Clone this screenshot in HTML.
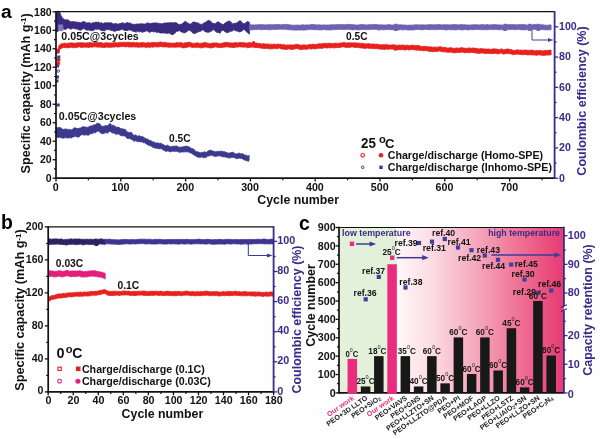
<!DOCTYPE html>
<html><head><meta charset="utf-8"><title>Cycling performance</title>
<style>
html,body{margin:0;padding:0;background:#fff;}
body{width:600px;height:439px;overflow:hidden;font-family:"Liberation Sans",sans-serif;}
svg{display:block;filter:blur(0.55px);}
</style></head>
<body>
<svg width="600" height="439" viewBox="0 0 600 439">
<rect x="0" y="0" width="600" height="439" fill="#fefefe"/>
<g id="panelA">
<path d="M56.6 11.9 L58.1 11.1 L59.6 11.8 L61.1 15.8 L62.6 18.3 L64.1 19.2 L65.6 20.1 L67.1 19.5 L68.6 20.3 L70.1 21.4 L71.6 21.8 L73.1 21.6 L74.6 21.8 L76.1 22.0 L77.6 22.2 L79.1 22.3 L80.6 22.8 L82.1 22.0 L83.6 21.6 L85.1 21.9 L86.6 23.0 L88.1 22.7 L89.6 22.7 L91.1 23.6 L92.6 22.7 L94.1 22.8 L95.6 22.1 L97.1 22.3 L98.6 22.1 L100.1 23.2 L101.6 22.6 L103.1 23.8 L104.6 22.8 L106.1 23.0 L107.6 22.6 L109.1 23.0 L110.6 22.6 L112.1 23.2 L113.6 24.0 L115.1 23.5 L116.6 23.7 L118.1 24.2 L119.6 23.6 L121.1 23.3 L122.6 22.7 L124.1 23.4 L125.6 23.3 L127.1 22.5 L128.6 23.1 L130.1 22.9 L131.6 23.9 L133.1 24.2 L134.6 24.5 L136.1 24.1 L137.6 23.9 L139.1 24.0 L140.6 23.8 L142.1 23.8 L143.6 24.0 L145.1 24.1 L146.6 23.2 L148.1 22.9 L149.6 23.4 L151.1 23.6 L152.6 23.0 L154.1 23.0 L155.6 23.0 L157.1 22.9 L158.6 23.4 L160.1 23.6 L161.6 23.8 L163.1 23.6 L164.6 22.9 L166.1 23.1 L167.6 22.8 L169.1 22.9 L170.6 22.6 L172.1 22.8 L173.6 22.8 L175.1 22.6 L176.6 22.8 L178.1 24.3 L179.6 24.4 L181.1 24.3 L182.6 23.6 L184.1 22.1 L185.6 21.2 L187.1 22.7 L188.6 23.5 L190.1 24.3 L191.6 23.3 L193.1 22.0 L194.6 22.0 L196.1 22.8 L197.6 22.7 L199.1 23.7 L200.6 24.2 L202.1 24.4 L203.6 23.1 L205.1 22.5 L206.6 21.5 L208.1 20.4 L209.6 20.4 L211.1 21.8 L212.6 23.2 L214.1 23.7 L215.6 23.4 L217.1 22.3 L218.6 21.8 L220.1 23.2 L221.6 23.8 L223.1 25.0 L224.6 23.2 L226.1 22.6 L227.6 21.3 L229.1 21.2 L230.6 21.4 L232.1 23.9 L233.6 23.4 L235.1 23.3 L236.6 22.9 L238.1 22.0 L239.6 20.8 L241.1 21.2 L242.6 23.3 L244.1 23.8 L245.6 23.0 L247.1 21.5 L248.6 21.9 L249.4 22.3 L249.4 34.2 L248.6 33.8 L247.1 32.2 L245.6 31.0 L244.1 28.9 L242.6 30.6 L241.1 31.4 L239.6 32.0 L238.1 31.3 L236.6 31.0 L235.1 30.6 L233.6 29.7 L232.1 31.4 L230.6 31.1 L229.1 32.1 L227.6 32.7 L226.1 32.3 L224.6 31.6 L223.1 30.2 L221.6 30.5 L220.1 33.2 L218.6 32.6 L217.1 32.4 L215.6 31.6 L214.1 29.7 L212.6 29.9 L211.1 31.6 L209.6 31.8 L208.1 32.5 L206.6 31.9 L205.1 31.9 L203.6 29.9 L202.1 30.1 L200.6 31.3 L199.1 31.5 L197.6 32.2 L196.1 32.9 L194.6 33.5 L193.1 33.2 L191.6 32.0 L190.1 30.3 L188.6 30.2 L187.1 31.5 L185.6 32.4 L184.1 32.9 L182.6 32.3 L181.1 31.9 L179.6 30.5 L178.1 31.3 L176.6 31.2 L175.1 33.1 L173.6 34.2 L172.1 34.7 L170.6 34.0 L169.1 32.9 L167.6 33.4 L166.1 33.3 L164.6 32.9 L163.1 33.0 L161.6 33.0 L160.1 33.0 L158.6 32.2 L157.1 32.6 L155.6 31.7 L154.1 32.0 L152.6 31.4 L151.1 31.5 L149.6 32.6 L148.1 31.4 L146.6 30.8 L145.1 31.4 L143.6 31.9 L142.1 32.3 L140.6 31.6 L139.1 32.0 L137.6 31.1 L136.1 32.3 L134.6 31.6 L133.1 31.4 L131.6 30.6 L130.1 30.0 L128.6 30.1 L127.1 30.7 L125.6 30.4 L124.1 30.4 L122.6 29.3 L121.1 29.6 L119.6 30.3 L118.1 30.5 L116.6 30.4 L115.1 31.4 L113.6 31.1 L112.1 30.5 L110.6 30.3 L109.1 29.6 L107.6 29.8 L106.1 29.6 L104.6 30.9 L103.1 30.7 L101.6 30.5 L100.1 30.0 L98.6 28.9 L97.1 29.4 L95.6 29.0 L94.1 30.1 L92.6 30.7 L91.1 30.6 L89.6 30.3 L88.1 29.9 L86.6 30.2 L85.1 29.4 L83.6 28.3 L82.1 29.4 L80.6 30.3 L79.1 29.9 L77.6 29.3 L76.1 28.9 L74.6 28.7 L73.1 28.0 L71.6 29.0 L70.1 29.0 L68.6 28.0 L67.1 28.3 L65.6 29.6 L64.1 29.3 L62.6 28.2 L61.1 29.1 L59.6 30.1 L58.1 31.2 L56.6 32.1Z" fill="#3a2a80" stroke="#3a2a80" stroke-width="0.8" stroke-linejoin="round"/>
<rect x="58.2" y="24.5" width="5.0" height="6.6" fill="#7f7abf"/>
<path d="M249.4 24.6 L251.8 24.9 L254.2 24.9 L256.6 24.8 L259.0 24.7 L261.4 24.6 L263.8 24.8 L266.2 24.9 L268.6 24.4 L271.0 24.8 L273.4 24.7 L275.8 24.6 L278.2 24.5 L280.6 24.7 L283.0 24.6 L285.4 24.3 L287.8 24.6 L290.2 24.9 L292.6 25.2 L295.0 25.2 L297.4 25.0 L299.8 25.3 L302.2 24.8 L304.6 25.0 L307.0 24.9 L309.4 24.9 L311.8 24.3 L314.2 24.6 L316.6 24.9 L319.0 24.8 L321.4 25.1 L323.8 24.9 L326.2 25.0 L328.6 25.0 L331.0 24.8 L333.4 24.8 L335.8 24.8 L338.2 24.6 L340.6 24.6 L343.0 24.6 L345.4 24.7 L347.8 24.3 L350.2 24.6 L352.6 24.6 L355.0 24.9 L357.4 25.1 L359.8 24.7 L362.2 24.4 L364.6 24.7 L367.0 25.0 L369.4 24.6 L371.8 24.8 L374.2 24.4 L376.6 24.6 L379.0 24.9 L381.4 24.8 L383.8 25.0 L386.2 25.0 L388.6 24.5 L391.0 25.0 L393.4 25.0 L395.8 24.8 L398.2 24.8 L400.6 24.8 L403.0 25.0 L405.4 25.1 L407.8 25.3 L410.2 25.0 L412.6 25.2 L415.0 24.8 L417.4 24.8 L419.8 24.9 L422.2 24.8 L424.6 24.9 L427.0 24.9 L429.4 24.5 L431.8 24.8 L434.2 24.8 L436.6 24.7 L439.0 24.4 L441.4 24.9 L443.8 24.7 L446.2 24.7 L448.6 24.8 L451.0 24.9 L453.4 24.6 L455.8 24.6 L458.2 24.9 L460.6 24.6 L463.0 24.8 L465.4 24.8 L467.8 25.0 L470.2 25.0 L472.6 24.7 L475.0 24.8 L477.4 24.7 L479.8 25.0 L482.2 24.5 L484.6 24.9 L487.0 24.5 L489.4 24.9 L491.8 24.8 L494.2 24.6 L496.6 24.7 L499.0 24.9 L501.4 24.9 L503.8 25.1 L506.2 24.9 L508.6 24.4 L511.0 24.7 L513.4 24.5 L515.8 24.8 L518.2 24.7 L520.6 24.4 L523.0 24.5 L525.4 24.8 L527.8 25.1 L530.2 24.8 L532.6 24.8 L535.0 24.3 L537.4 25.0 L539.8 24.8 L542.2 24.7 L544.6 25.1 L547.0 25.3 L549.4 24.9 L551.1 24.9 L551.1 29.8 L549.4 29.8 L547.0 29.9 L544.6 29.7 L542.2 29.5 L539.8 29.9 L537.4 29.7 L535.0 29.3 L532.6 29.4 L530.2 29.5 L527.8 29.8 L525.4 29.8 L523.0 29.9 L520.6 29.7 L518.2 29.2 L515.8 29.8 L513.4 29.4 L511.0 29.4 L508.6 29.6 L506.2 29.8 L503.8 30.1 L501.4 29.6 L499.0 29.8 L496.6 29.4 L494.2 29.6 L491.8 29.6 L489.4 29.5 L487.0 29.7 L484.6 29.7 L482.2 29.7 L479.8 29.6 L477.4 29.4 L475.0 29.5 L472.6 29.7 L470.2 29.6 L467.8 30.0 L465.4 29.4 L463.0 29.9 L460.6 29.8 L458.2 29.4 L455.8 29.9 L453.4 29.7 L451.0 29.8 L448.6 29.6 L446.2 30.0 L443.8 29.5 L441.4 29.5 L439.0 29.4 L436.6 29.7 L434.2 29.6 L431.8 29.6 L429.4 29.7 L427.0 29.4 L424.6 29.4 L422.2 29.9 L419.8 29.6 L417.4 29.4 L415.0 29.7 L412.6 30.0 L410.2 29.9 L407.8 30.0 L405.4 29.6 L403.0 30.0 L400.6 29.6 L398.2 30.1 L395.8 30.1 L393.4 29.7 L391.0 29.7 L388.6 29.4 L386.2 29.5 L383.8 29.8 L381.4 29.6 L379.0 30.1 L376.6 29.5 L374.2 29.2 L371.8 29.4 L369.4 29.5 L367.0 29.7 L364.6 29.6 L362.2 29.4 L359.8 29.8 L357.4 29.9 L355.0 29.5 L352.6 29.9 L350.2 29.5 L347.8 29.3 L345.4 29.6 L343.0 29.5 L340.6 29.4 L338.2 29.3 L335.8 29.7 L333.4 29.6 L331.0 29.9 L328.6 29.9 L326.2 29.9 L323.8 29.5 L321.4 29.9 L319.0 29.8 L316.6 29.7 L314.2 29.7 L311.8 29.4 L309.4 29.5 L307.0 29.8 L304.6 30.1 L302.2 30.0 L299.8 30.0 L297.4 30.1 L295.0 30.1 L292.6 30.1 L290.2 29.7 L287.8 29.7 L285.4 29.3 L283.0 29.2 L280.6 29.3 L278.2 29.2 L275.8 29.5 L273.4 29.3 L271.0 29.8 L268.6 29.7 L266.2 29.6 L263.8 29.5 L261.4 29.8 L259.0 29.2 L256.6 29.6 L254.2 29.5 L251.8 29.9 L249.4 29.7Z" fill="#6b63b1" stroke="#6b63b1" stroke-width="0.8" stroke-linejoin="round"/>
<rect x="394.1" y="23.8" width="3.0" height="7.2" fill="#6b63b1"/>
<rect x="503.6" y="23.8" width="3.0" height="7.2" fill="#6b63b1"/>
<rect x="528.2" y="23.8" width="3.0" height="7.2" fill="#6b63b1"/>
<rect x="536.6" y="23.8" width="3.0" height="7.2" fill="#6b63b1"/>
<path d="M58.6 46.1 L60.2 44.3 L61.8 43.8 L63.4 43.4 L65.0 43.0 L66.6 43.7 L68.2 42.9 L69.8 43.2 L71.4 42.7 L73.0 43.1 L74.6 43.3 L76.2 43.1 L77.8 42.8 L79.4 42.8 L81.0 42.8 L82.6 42.8 L84.2 42.9 L85.8 43.0 L87.4 42.8 L89.0 42.8 L90.6 42.5 L92.2 42.9 L93.8 42.7 L95.4 42.2 L97.0 42.5 L98.6 42.7 L100.2 42.5 L101.8 42.6 L103.4 43.4 L105.0 42.9 L106.6 42.5 L108.2 43.1 L109.8 42.9 L111.4 43.0 L113.0 43.0 L114.6 42.5 L116.2 42.7 L117.8 42.9 L119.4 42.3 L121.0 42.4 L122.6 42.4 L124.2 42.2 L125.8 42.4 L127.4 42.3 L129.0 42.2 L130.6 42.6 L132.2 42.6 L133.8 42.2 L135.4 42.9 L137.0 42.4 L138.6 43.1 L140.2 42.7 L141.8 42.6 L143.4 42.4 L145.0 43.1 L146.6 42.9 L148.2 42.4 L149.8 43.0 L151.4 42.5 L153.0 42.4 L154.6 42.6 L156.2 42.7 L157.8 42.4 L159.4 42.2 L161.0 41.9 L162.6 42.5 L164.2 42.5 L165.8 42.5 L167.4 42.9 L169.0 42.9 L170.6 43.0 L172.2 43.2 L173.8 43.1 L175.4 43.1 L177.0 42.4 L178.6 43.0 L180.2 42.4 L181.8 42.7 L183.4 43.4 L185.0 42.8 L186.6 42.6 L188.2 42.6 L189.8 42.1 L191.4 43.1 L193.0 43.4 L194.6 43.2 L196.2 43.0 L197.8 42.8 L199.4 43.4 L201.0 43.3 L202.6 43.1 L204.2 42.5 L205.8 42.6 L207.4 43.2 L209.0 43.4 L210.6 43.7 L212.2 43.0 L213.8 43.0 L215.4 42.9 L217.0 42.9 L218.6 43.5 L220.2 43.6 L221.8 43.3 L223.4 42.8 L225.0 42.6 L226.6 42.3 L228.2 42.7 L229.8 42.8 L231.4 43.1 L233.0 43.1 L234.6 42.7 L236.2 42.6 L237.8 43.0 L239.4 42.5 L241.0 42.6 L242.6 42.6 L244.2 42.8 L245.8 43.0 L247.4 43.1 L249.0 42.6 L250.6 42.8 L252.2 43.1 L253.8 42.8 L255.4 42.9 L257.0 43.1 L258.6 43.5 L260.2 43.4 L261.8 44.3 L263.4 43.5 L265.0 44.1 L266.6 44.0 L268.2 43.9 L269.8 44.4 L271.4 44.2 L273.0 44.5 L274.6 44.1 L276.2 44.8 L277.8 43.9 L279.4 44.3 L281.0 44.3 L282.6 44.9 L284.2 44.4 L285.8 45.2 L287.4 44.9 L289.0 45.0 L290.6 44.8 L292.2 45.1 L293.8 44.9 L295.4 44.6 L297.0 44.3 L298.6 44.7 L300.2 45.1 L301.8 45.3 L303.4 44.7 L305.0 44.9 L306.6 45.3 L308.2 44.8 L309.8 44.4 L311.4 44.5 L313.0 44.1 L314.6 44.5 L316.2 44.2 L317.8 44.3 L319.4 43.5 L321.0 43.9 L322.6 43.8 L324.2 43.2 L325.8 43.4 L327.4 43.4 L329.0 43.2 L330.6 43.3 L332.2 43.4 L333.8 43.4 L335.4 43.1 L337.0 43.4 L338.6 43.5 L340.2 42.9 L341.8 42.9 L343.4 42.6 L345.0 42.7 L346.6 43.1 L348.2 42.7 L349.8 42.9 L351.4 42.8 L353.0 42.9 L354.6 42.8 L356.2 43.1 L357.8 42.9 L359.4 43.2 L361.0 43.4 L362.6 43.3 L364.2 43.7 L365.8 43.9 L367.4 43.7 L369.0 43.6 L370.6 44.2 L372.2 44.0 L373.8 44.0 L375.4 44.2 L377.0 44.1 L378.6 44.6 L380.2 44.8 L381.8 44.8 L383.4 44.6 L385.0 44.8 L386.6 44.4 L388.2 45.1 L389.8 45.0 L391.4 45.0 L393.0 44.7 L394.6 44.9 L396.2 45.2 L397.8 45.5 L399.4 44.9 L401.0 45.3 L402.6 44.9 L404.2 45.2 L405.8 45.6 L407.4 45.0 L409.0 45.8 L410.6 45.6 L412.2 45.1 L413.8 45.4 L415.4 45.4 L417.0 45.4 L418.6 45.3 L420.2 46.2 L421.8 46.5 L423.4 46.5 L425.0 46.4 L426.6 46.6 L428.2 46.7 L429.8 47.0 L431.4 46.8 L433.0 47.4 L434.6 47.0 L436.2 47.3 L437.8 47.2 L439.4 46.7 L441.0 46.8 L442.6 47.6 L444.2 47.2 L445.8 47.6 L447.4 48.1 L449.0 48.1 L450.6 47.6 L452.2 48.1 L453.8 48.5 L455.4 48.2 L457.0 47.9 L458.6 48.3 L460.2 47.9 L461.8 47.6 L463.4 48.0 L465.0 48.3 L466.6 48.3 L468.2 48.2 L469.8 47.8 L471.4 48.4 L473.0 48.0 L474.6 48.1 L476.2 48.6 L477.8 48.6 L479.4 49.0 L481.0 48.6 L482.6 48.8 L484.2 48.9 L485.8 49.1 L487.4 49.1 L489.0 48.9 L490.6 49.6 L492.2 49.1 L493.8 48.8 L495.4 48.9 L497.0 49.1 L498.6 49.6 L500.2 49.4 L501.8 48.8 L503.4 49.8 L505.0 49.6 L506.6 49.1 L508.2 48.9 L509.8 49.5 L511.4 49.6 L513.0 50.3 L514.6 50.5 L516.2 50.0 L517.8 49.8 L519.4 50.2 L521.0 50.0 L522.6 50.4 L524.2 49.9 L525.8 50.1 L527.4 50.2 L529.0 50.4 L530.6 50.2 L532.2 50.1 L533.8 50.6 L535.4 50.8 L537.0 50.4 L538.6 50.7 L540.2 50.3 L541.8 51.0 L543.4 50.7 L545.0 50.4 L546.6 50.5 L548.2 50.4 L549.8 50.1 L551.1 50.2 L551.1 54.8 L549.8 55.0 L548.2 55.0 L546.6 55.1 L545.0 55.2 L543.4 55.4 L541.8 55.3 L540.2 55.0 L538.6 54.7 L537.0 55.3 L535.4 55.2 L533.8 54.8 L532.2 55.0 L530.6 54.7 L529.0 54.8 L527.4 54.9 L525.8 54.6 L524.2 54.5 L522.6 54.8 L521.0 54.4 L519.4 54.4 L517.8 54.1 L516.2 54.3 L514.6 54.3 L513.0 54.8 L511.4 54.1 L509.8 53.7 L508.2 53.6 L506.6 53.4 L505.0 53.8 L503.4 54.2 L501.8 53.1 L500.2 53.3 L498.6 53.8 L497.0 53.8 L495.4 53.3 L493.8 53.5 L492.2 53.5 L490.6 53.7 L489.0 53.3 L487.4 53.3 L485.8 53.7 L484.2 53.3 L482.6 53.1 L481.0 52.9 L479.4 53.4 L477.8 53.2 L476.2 53.1 L474.6 52.8 L473.0 52.5 L471.4 52.4 L469.8 52.5 L468.2 52.8 L466.6 52.4 L465.0 52.9 L463.4 52.3 L461.8 52.1 L460.2 52.6 L458.6 52.5 L457.0 52.3 L455.4 52.8 L453.8 52.8 L452.2 52.5 L450.6 52.1 L449.0 52.3 L447.4 52.3 L445.8 51.9 L444.2 51.8 L442.6 51.9 L441.0 51.3 L439.4 50.9 L437.8 51.4 L436.2 51.6 L434.6 51.5 L433.0 51.7 L431.4 51.6 L429.8 51.7 L428.2 51.1 L426.6 50.7 L425.0 50.5 L423.4 50.9 L421.8 50.3 L420.2 50.6 L418.6 50.1 L417.0 50.2 L415.4 50.0 L413.8 49.7 L412.2 49.5 L410.6 49.7 L409.0 50.0 L407.4 49.5 L405.8 49.9 L404.2 50.0 L402.6 49.4 L401.0 49.7 L399.4 49.7 L397.8 49.7 L396.2 49.5 L394.6 49.3 L393.0 49.1 L391.4 49.1 L389.8 49.0 L388.2 49.5 L386.6 48.9 L385.0 49.4 L383.4 49.3 L381.8 49.3 L380.2 49.0 L378.6 49.0 L377.0 48.5 L375.4 48.7 L373.8 48.5 L372.2 48.4 L370.6 48.4 L369.0 48.3 L367.4 48.0 L365.8 48.3 L364.2 48.4 L362.6 48.0 L361.0 47.9 L359.4 47.8 L357.8 47.3 L356.2 47.5 L354.6 47.5 L353.0 46.9 L351.4 47.0 L349.8 47.4 L348.2 47.3 L346.6 47.5 L345.0 47.2 L343.4 46.8 L341.8 46.9 L340.2 47.6 L338.6 47.6 L337.0 47.5 L335.4 47.7 L333.8 48.1 L332.2 47.5 L330.6 47.9 L329.0 47.6 L327.4 48.0 L325.8 47.9 L324.2 47.5 L322.6 48.4 L321.0 48.2 L319.4 48.2 L317.8 48.5 L316.2 48.6 L314.6 49.0 L313.0 48.4 L311.4 49.1 L309.8 48.8 L308.2 48.7 L306.6 49.6 L305.0 49.1 L303.4 49.2 L301.8 49.4 L300.2 49.7 L298.6 48.9 L297.0 48.5 L295.4 48.8 L293.8 49.2 L292.2 49.4 L290.6 49.5 L289.0 48.8 L287.4 49.3 L285.8 49.5 L284.2 49.2 L282.6 49.1 L281.0 48.9 L279.4 48.1 L277.8 48.5 L276.2 48.7 L274.6 48.3 L273.0 48.8 L271.4 48.8 L269.8 49.0 L268.2 48.5 L266.6 48.4 L265.0 48.6 L263.4 48.4 L261.8 48.2 L260.2 47.9 L258.6 47.8 L257.0 47.4 L255.4 47.7 L253.8 47.2 L252.2 47.1 L250.6 47.3 L249.0 47.4 L247.4 47.8 L245.8 47.0 L244.2 47.2 L242.6 47.1 L241.0 47.0 L239.4 46.7 L237.8 47.2 L236.2 46.9 L234.6 47.5 L233.0 47.5 L231.4 47.3 L229.8 47.3 L228.2 46.9 L226.6 46.8 L225.0 47.1 L223.4 47.3 L221.8 47.4 L220.2 47.4 L218.6 47.5 L217.0 47.3 L215.4 46.8 L213.8 47.4 L212.2 47.7 L210.6 48.0 L209.0 47.6 L207.4 47.6 L205.8 47.0 L204.2 47.2 L202.6 47.8 L201.0 47.8 L199.4 47.6 L197.8 47.2 L196.2 47.4 L194.6 47.2 L193.0 47.5 L191.4 47.3 L189.8 46.6 L188.2 47.0 L186.6 47.4 L185.0 47.7 L183.4 47.9 L181.8 47.6 L180.2 46.9 L178.6 47.1 L177.0 47.1 L175.4 47.3 L173.8 47.2 L172.2 47.1 L170.6 47.2 L169.0 47.3 L167.4 47.1 L165.8 46.9 L164.2 46.9 L162.6 47.0 L161.0 46.3 L159.4 46.8 L157.8 47.1 L156.2 46.8 L154.6 46.8 L153.0 47.3 L151.4 46.9 L149.8 47.6 L148.2 47.0 L146.6 47.6 L145.0 47.1 L143.4 46.9 L141.8 47.2 L140.2 46.9 L138.6 47.4 L137.0 46.9 L135.4 47.1 L133.8 46.8 L132.2 47.0 L130.6 47.0 L129.0 47.1 L127.4 46.6 L125.8 47.0 L124.2 46.6 L122.6 46.6 L121.0 46.5 L119.4 46.9 L117.8 47.0 L116.2 46.7 L114.6 47.1 L113.0 47.0 L111.4 47.3 L109.8 47.3 L108.2 47.3 L106.6 47.1 L105.0 47.4 L103.4 47.4 L101.8 47.4 L100.2 47.0 L98.6 47.2 L97.0 47.1 L95.4 46.8 L93.8 46.8 L92.2 47.3 L90.6 46.9 L89.0 47.5 L87.4 47.3 L85.8 47.2 L84.2 47.1 L82.6 47.4 L81.0 47.4 L79.4 46.7 L77.8 47.2 L76.2 47.6 L74.6 47.6 L73.0 47.8 L71.4 47.2 L69.8 47.4 L68.2 47.9 L66.6 47.6 L65.0 47.7 L63.4 47.4 L61.8 48.2 L60.2 48.9 L58.6 50.9Z" fill="#e6211e" stroke="#e6211e" stroke-width="0.8" stroke-linejoin="round"/>
<circle cx="395.6" cy="48.5" r="2.2" fill="#e6211e"/>
<circle cx="253.6" cy="42.2" r="1.3" fill="#e6211e"/>
<rect x="56.5" y="50.5" width="3" height="3" fill="#3c3a8e"/>
<rect x="57.3" y="55.5" width="3" height="3" fill="#3c3a8e"/>
<rect x="56.1" y="64.5" width="3" height="3" fill="#3c3a8e"/>
<rect x="55.9" y="75.5" width="3" height="3" fill="#3c3a8e"/>
<rect x="55.5" y="79.5" width="3" height="3" fill="#3c3a8e"/>
<rect x="56.7" y="103.5" width="3" height="3" fill="#3c3a8e"/>
<circle cx="58.6" cy="60.0" r="1.9" fill="#e6211e"/>
<circle cx="58.2" cy="63.5" r="1.9" fill="#e6211e"/>
<circle cx="58.2" cy="50.5" r="1.9" fill="#e6211e"/>
<circle cx="58.2" cy="71.0" r="1.3" fill="none" stroke="#3c3a8e" stroke-width="0.9"/>
<circle cx="57.8" cy="58.5" r="1.3" fill="none" stroke="#3c3a8e" stroke-width="0.9"/>
<path d="M56.3 127.4 L57.8 127.8 L59.3 127.4 L60.8 127.7 L62.3 129.1 L63.8 129.6 L65.3 128.8 L66.8 129.4 L68.3 129.4 L69.8 129.5 L71.3 130.0 L72.8 129.1 L74.3 127.7 L75.8 128.1 L77.3 128.6 L78.8 128.3 L80.3 128.1 L81.8 127.2 L83.3 126.6 L84.8 127.1 L86.3 127.1 L87.8 127.4 L89.3 126.4 L90.8 125.9 L92.3 125.8 L93.8 124.9 L95.3 124.8 L96.8 123.4 L98.3 123.3 L99.8 123.9 L101.3 125.9 L102.8 126.5 L104.3 126.1 L105.8 125.6 L107.3 125.9 L108.8 124.5 L110.3 123.3 L111.8 125.7 L113.3 125.1 L114.8 126.3 L116.3 127.2 L117.8 127.1 L119.3 127.6 L120.8 128.8 L122.3 128.7 L123.8 129.3 L125.3 129.3 L126.8 131.7 L128.3 132.3 L129.8 132.5 L131.3 132.3 L132.8 134.5 L134.3 135.6 L135.8 134.8 L137.3 136.4 L138.8 135.6 L140.3 136.3 L141.8 136.6 L143.3 136.9 L144.8 138.0 L146.3 138.9 L147.8 139.1 L149.3 140.5 L150.8 140.3 L152.3 142.0 L153.8 141.7 L155.3 143.0 L156.8 142.9 L158.3 143.0 L159.8 143.6 L161.3 143.3 L162.8 144.5 L164.3 145.1 L165.8 146.1 L167.3 145.1 L168.8 145.9 L170.3 146.8 L171.8 146.6 L173.3 146.2 L174.8 146.2 L176.3 145.9 L177.8 146.5 L179.3 147.4 L180.8 147.0 L182.3 147.1 L183.8 146.5 L185.3 146.3 L186.8 146.1 L188.3 146.8 L189.8 147.2 L191.3 148.4 L192.8 148.7 L194.3 149.6 L195.8 151.4 L197.3 151.8 L198.8 152.1 L200.3 152.7 L201.8 152.4 L203.3 152.2 L204.8 151.8 L206.3 152.5 L207.8 151.0 L209.3 150.5 L210.8 150.1 L212.3 150.9 L213.8 151.2 L215.3 151.7 L216.8 151.5 L218.3 151.3 L219.8 151.4 L221.3 151.0 L222.8 151.8 L224.3 151.6 L225.8 152.3 L227.3 152.8 L228.8 153.2 L230.3 152.7 L231.8 152.5 L233.3 152.2 L234.8 153.6 L236.3 154.0 L237.8 153.6 L239.3 153.1 L240.8 153.9 L242.3 153.6 L243.8 154.6 L245.3 155.2 L246.8 155.3 L248.3 156.7 L249.1 155.1 L249.1 160.2 L248.3 161.5 L246.8 160.5 L245.3 160.4 L243.8 159.7 L242.3 158.7 L240.8 158.4 L239.3 158.1 L237.8 158.6 L236.3 158.5 L234.8 157.9 L233.3 157.3 L231.8 157.4 L230.3 157.8 L228.8 158.1 L227.3 157.3 L225.8 157.3 L224.3 156.7 L222.8 156.9 L221.3 156.2 L219.8 156.0 L218.3 155.8 L216.8 156.2 L215.3 156.5 L213.8 156.0 L212.3 155.6 L210.8 155.1 L209.3 156.0 L207.8 156.0 L206.3 157.3 L204.8 157.4 L203.3 157.8 L201.8 156.8 L200.3 157.4 L198.8 157.2 L197.3 157.0 L195.8 156.1 L194.3 155.3 L192.8 154.2 L191.3 153.2 L189.8 152.6 L188.3 152.1 L186.8 151.8 L185.3 151.8 L183.8 152.0 L182.3 151.9 L180.8 152.1 L179.3 152.4 L177.8 151.5 L176.3 151.3 L174.8 151.3 L173.3 151.3 L171.8 151.2 L170.3 152.0 L168.8 151.2 L167.3 151.0 L165.8 151.4 L164.3 150.5 L162.8 149.7 L161.3 148.6 L159.8 148.9 L158.3 148.5 L156.8 148.3 L155.3 148.2 L153.8 147.6 L152.3 147.2 L150.8 145.7 L149.3 145.7 L147.8 144.7 L146.3 144.1 L144.8 142.7 L143.3 142.7 L141.8 141.8 L140.3 141.9 L138.8 141.4 L137.3 141.7 L135.8 140.6 L134.3 141.4 L132.8 140.1 L131.3 139.4 L129.8 138.4 L128.3 138.6 L126.8 138.3 L125.3 136.1 L123.8 135.9 L122.3 135.8 L120.8 135.7 L119.3 134.6 L117.8 133.7 L116.3 134.6 L114.8 133.5 L113.3 133.1 L111.8 132.8 L110.3 131.3 L108.8 131.9 L107.3 133.2 L105.8 132.6 L104.3 133.3 L102.8 133.7 L101.3 133.4 L99.8 132.2 L98.3 131.0 L96.8 131.5 L95.3 133.1 L93.8 132.5 L92.3 133.8 L90.8 133.5 L89.3 134.8 L87.8 135.2 L86.3 134.7 L84.8 135.1 L83.3 134.9 L81.8 134.6 L80.3 135.6 L78.8 137.1 L77.3 137.1 L75.8 136.2 L74.3 136.7 L72.8 137.0 L71.3 138.1 L69.8 137.7 L68.3 137.9 L66.8 138.0 L65.3 137.6 L63.8 138.1 L62.3 138.2 L60.8 137.4 L59.3 137.3 L57.8 137.6 L56.3 136.7Z" fill="#3c3a8e" stroke="#3c3a8e" stroke-width="0.8" stroke-linejoin="round"/>
<line x1="56.00" y1="11.60" x2="554.60" y2="11.60" stroke="#111" stroke-width="1.3" />
<line x1="56.00" y1="11.10" x2="56.00" y2="178.90" stroke="#111" stroke-width="1.7" />
<line x1="55.30" y1="178.20" x2="554.60" y2="178.20" stroke="#111" stroke-width="1.7" />
<line x1="554.60" y1="11.10" x2="554.60" y2="178.90" stroke="#3b2a8a" stroke-width="1.8" />
<line x1="52.60" y1="178.20" x2="56.00" y2="178.20" stroke="#111" stroke-width="1.3" />
<text x="51.60" y="181.90" font-size="10.5" fill="#111" text-anchor="end" font-family="Liberation Sans, sans-serif" font-weight="bold" >0</text>
<line x1="54.00" y1="168.96" x2="56.00" y2="168.96" stroke="#111" stroke-width="1.2" />
<line x1="52.60" y1="159.71" x2="56.00" y2="159.71" stroke="#111" stroke-width="1.3" />
<text x="51.60" y="163.41" font-size="10.5" fill="#111" text-anchor="end" font-family="Liberation Sans, sans-serif" font-weight="bold" >20</text>
<line x1="54.00" y1="150.47" x2="56.00" y2="150.47" stroke="#111" stroke-width="1.2" />
<line x1="52.60" y1="141.22" x2="56.00" y2="141.22" stroke="#111" stroke-width="1.3" />
<text x="51.60" y="144.92" font-size="10.5" fill="#111" text-anchor="end" font-family="Liberation Sans, sans-serif" font-weight="bold" >40</text>
<line x1="54.00" y1="131.98" x2="56.00" y2="131.98" stroke="#111" stroke-width="1.2" />
<line x1="52.60" y1="122.73" x2="56.00" y2="122.73" stroke="#111" stroke-width="1.3" />
<text x="51.60" y="126.43" font-size="10.5" fill="#111" text-anchor="end" font-family="Liberation Sans, sans-serif" font-weight="bold" >60</text>
<line x1="54.00" y1="113.49" x2="56.00" y2="113.49" stroke="#111" stroke-width="1.2" />
<line x1="52.60" y1="104.24" x2="56.00" y2="104.24" stroke="#111" stroke-width="1.3" />
<text x="51.60" y="107.94" font-size="10.5" fill="#111" text-anchor="end" font-family="Liberation Sans, sans-serif" font-weight="bold" >80</text>
<line x1="54.00" y1="95.00" x2="56.00" y2="95.00" stroke="#111" stroke-width="1.2" />
<line x1="52.60" y1="85.76" x2="56.00" y2="85.76" stroke="#111" stroke-width="1.3" />
<text x="51.60" y="89.46" font-size="10.5" fill="#111" text-anchor="end" font-family="Liberation Sans, sans-serif" font-weight="bold" >100</text>
<line x1="54.00" y1="76.51" x2="56.00" y2="76.51" stroke="#111" stroke-width="1.2" />
<line x1="52.60" y1="67.27" x2="56.00" y2="67.27" stroke="#111" stroke-width="1.3" />
<text x="51.60" y="70.97" font-size="10.5" fill="#111" text-anchor="end" font-family="Liberation Sans, sans-serif" font-weight="bold" >120</text>
<line x1="54.00" y1="58.02" x2="56.00" y2="58.02" stroke="#111" stroke-width="1.2" />
<line x1="52.60" y1="48.78" x2="56.00" y2="48.78" stroke="#111" stroke-width="1.3" />
<text x="51.60" y="52.48" font-size="10.5" fill="#111" text-anchor="end" font-family="Liberation Sans, sans-serif" font-weight="bold" >140</text>
<line x1="54.00" y1="39.53" x2="56.00" y2="39.53" stroke="#111" stroke-width="1.2" />
<line x1="52.60" y1="30.29" x2="56.00" y2="30.29" stroke="#111" stroke-width="1.3" />
<text x="51.60" y="33.99" font-size="10.5" fill="#111" text-anchor="end" font-family="Liberation Sans, sans-serif" font-weight="bold" >160</text>
<line x1="54.00" y1="21.04" x2="56.00" y2="21.04" stroke="#111" stroke-width="1.2" />
<line x1="52.60" y1="11.80" x2="56.00" y2="11.80" stroke="#111" stroke-width="1.3" />
<text x="51.60" y="15.50" font-size="10.5" fill="#111" text-anchor="end" font-family="Liberation Sans, sans-serif" font-weight="bold" >180</text>
<line x1="56.00" y1="178.20" x2="56.00" y2="181.50" stroke="#111" stroke-width="1.3" />
<text x="55.70" y="191.40" font-size="10.7" fill="#111" text-anchor="middle" font-family="Liberation Sans, sans-serif" font-weight="bold" >0</text>
<line x1="88.40" y1="178.20" x2="88.40" y2="180.20" stroke="#111" stroke-width="1.2" />
<line x1="120.80" y1="178.20" x2="120.80" y2="181.50" stroke="#111" stroke-width="1.3" />
<text x="120.50" y="191.40" font-size="10.7" fill="#111" text-anchor="middle" font-family="Liberation Sans, sans-serif" font-weight="bold" >100</text>
<line x1="153.20" y1="178.20" x2="153.20" y2="180.20" stroke="#111" stroke-width="1.2" />
<line x1="185.60" y1="178.20" x2="185.60" y2="181.50" stroke="#111" stroke-width="1.3" />
<text x="185.30" y="191.40" font-size="10.7" fill="#111" text-anchor="middle" font-family="Liberation Sans, sans-serif" font-weight="bold" >200</text>
<line x1="218.00" y1="178.20" x2="218.00" y2="180.20" stroke="#111" stroke-width="1.2" />
<line x1="250.40" y1="178.20" x2="250.40" y2="181.50" stroke="#111" stroke-width="1.3" />
<text x="250.10" y="191.40" font-size="10.7" fill="#111" text-anchor="middle" font-family="Liberation Sans, sans-serif" font-weight="bold" >300</text>
<line x1="282.80" y1="178.20" x2="282.80" y2="180.20" stroke="#111" stroke-width="1.2" />
<line x1="315.20" y1="178.20" x2="315.20" y2="181.50" stroke="#111" stroke-width="1.3" />
<text x="314.90" y="191.40" font-size="10.7" fill="#111" text-anchor="middle" font-family="Liberation Sans, sans-serif" font-weight="bold" >400</text>
<line x1="347.60" y1="178.20" x2="347.60" y2="180.20" stroke="#111" stroke-width="1.2" />
<line x1="380.00" y1="178.20" x2="380.00" y2="181.50" stroke="#111" stroke-width="1.3" />
<text x="379.70" y="191.40" font-size="10.7" fill="#111" text-anchor="middle" font-family="Liberation Sans, sans-serif" font-weight="bold" >500</text>
<line x1="412.40" y1="178.20" x2="412.40" y2="180.20" stroke="#111" stroke-width="1.2" />
<line x1="444.80" y1="178.20" x2="444.80" y2="181.50" stroke="#111" stroke-width="1.3" />
<text x="444.50" y="191.40" font-size="10.7" fill="#111" text-anchor="middle" font-family="Liberation Sans, sans-serif" font-weight="bold" >600</text>
<line x1="477.20" y1="178.20" x2="477.20" y2="180.20" stroke="#111" stroke-width="1.2" />
<line x1="509.60" y1="178.20" x2="509.60" y2="181.50" stroke="#111" stroke-width="1.3" />
<text x="509.30" y="191.40" font-size="10.7" fill="#111" text-anchor="middle" font-family="Liberation Sans, sans-serif" font-weight="bold" >700</text>
<line x1="542.00" y1="178.20" x2="542.00" y2="180.20" stroke="#111" stroke-width="1.2" />
<line x1="554.60" y1="178.20" x2="558.20" y2="178.20" stroke="#3b2a8a" stroke-width="1.3" />
<text x="559.00" y="181.60" font-size="10.6" fill="#3b2a8a" text-anchor="start" font-family="Liberation Sans, sans-serif" font-weight="bold" >0</text>
<line x1="554.60" y1="163.06" x2="556.60" y2="163.06" stroke="#3b2a8a" stroke-width="1.2" />
<line x1="554.60" y1="147.92" x2="558.20" y2="147.92" stroke="#3b2a8a" stroke-width="1.3" />
<text x="559.00" y="151.32" font-size="10.6" fill="#3b2a8a" text-anchor="start" font-family="Liberation Sans, sans-serif" font-weight="bold" >20</text>
<line x1="554.60" y1="132.78" x2="556.60" y2="132.78" stroke="#3b2a8a" stroke-width="1.2" />
<line x1="554.60" y1="117.64" x2="558.20" y2="117.64" stroke="#3b2a8a" stroke-width="1.3" />
<text x="559.00" y="121.04" font-size="10.6" fill="#3b2a8a" text-anchor="start" font-family="Liberation Sans, sans-serif" font-weight="bold" >40</text>
<line x1="554.60" y1="102.50" x2="556.60" y2="102.50" stroke="#3b2a8a" stroke-width="1.2" />
<line x1="554.60" y1="87.36" x2="558.20" y2="87.36" stroke="#3b2a8a" stroke-width="1.3" />
<text x="559.00" y="90.76" font-size="10.6" fill="#3b2a8a" text-anchor="start" font-family="Liberation Sans, sans-serif" font-weight="bold" >60</text>
<line x1="554.60" y1="72.22" x2="556.60" y2="72.22" stroke="#3b2a8a" stroke-width="1.2" />
<line x1="554.60" y1="57.08" x2="558.20" y2="57.08" stroke="#3b2a8a" stroke-width="1.3" />
<text x="559.00" y="60.48" font-size="10.6" fill="#3b2a8a" text-anchor="start" font-family="Liberation Sans, sans-serif" font-weight="bold" >80</text>
<line x1="554.60" y1="41.94" x2="556.60" y2="41.94" stroke="#3b2a8a" stroke-width="1.2" />
<line x1="554.60" y1="26.80" x2="558.20" y2="26.80" stroke="#3b2a8a" stroke-width="1.3" />
<text x="559.00" y="30.20" font-size="10.6" fill="#3b2a8a" text-anchor="start" font-family="Liberation Sans, sans-serif" font-weight="bold" >100</text>
<text x="0.90" y="17.70" font-size="19.2" fill="#000" text-anchor="start" font-family="Liberation Sans, sans-serif" font-weight="bold" >a</text>
<text transform="translate(29.90 93.40) rotate(-90)" font-size="12.5" fill="#111" text-anchor="middle" font-family="Liberation Sans, sans-serif" font-weight="bold" textLength="160" lengthAdjust="spacingAndGlyphs">Specific capacity (mAh g<tspan dy="-0.45em" font-size="62%">-1</tspan><tspan dy="0.28em">)</tspan></text>
<text transform="translate(585.60 101.00) rotate(-90)" font-size="12.6" fill="#3b2a8a" text-anchor="middle" font-family="Liberation Sans, sans-serif" font-weight="bold" textLength="149.4" lengthAdjust="spacingAndGlyphs">Coulombic efficiency (%)</text>
<text x="257.30" y="204.30" font-size="12.4" fill="#111" text-anchor="start" font-family="Liberation Sans, sans-serif" font-weight="bold" textLength="81.7" lengthAdjust="spacingAndGlyphs">Cycle number</text>
<text x="61.30" y="40.00" font-size="10.7" fill="#111" text-anchor="start" font-family="Liberation Sans, sans-serif" font-weight="bold" textLength="77.5" lengthAdjust="spacingAndGlyphs">0.05C@3cycles</text>
<text x="58.80" y="119.50" font-size="10.7" fill="#111" text-anchor="start" font-family="Liberation Sans, sans-serif" font-weight="bold" textLength="77.5" lengthAdjust="spacingAndGlyphs">0.05C@3cycles</text>
<text x="346.00" y="40.20" font-size="10.2" fill="#111" text-anchor="start" font-family="Liberation Sans, sans-serif" font-weight="bold" >0.5C</text>
<text x="169.00" y="142.40" font-size="10.2" fill="#111" text-anchor="start" font-family="Liberation Sans, sans-serif" font-weight="bold" >0.5C</text>
<path d="M532 29.5 V40 H549" fill="none" stroke="#4a3f9a" stroke-width="1"/>
<path d="M553.5 40 L548 38 L548 42Z" fill="#4a3f9a"/>
<text x="361.00" y="148.00" font-size="13.8" fill="#111" text-anchor="start" font-family="Liberation Sans, sans-serif" font-weight="bold" textLength="14.8" lengthAdjust="spacingAndGlyphs">25</text>
<text x="378.90" y="143.20" font-size="11.2" fill="#111" text-anchor="start" font-family="Liberation Sans, sans-serif" font-weight="bold" >o</text>
<text x="385.00" y="148.00" font-size="13.6" fill="#111" text-anchor="start" font-family="Liberation Sans, sans-serif" font-weight="bold" textLength="9.5" lengthAdjust="spacingAndGlyphs">C</text>
<circle cx="362.7" cy="155.3" r="1.8" fill="#fff" stroke="#e6211e" stroke-width="1.1"/>
<circle cx="381" cy="155.3" r="2.3" fill="#e6211e"/>
<text x="387.70" y="158.80" font-size="10.6" fill="#111" text-anchor="start" font-family="Liberation Sans, sans-serif" font-weight="bold" textLength="155.5" lengthAdjust="spacingAndGlyphs">Charge/discharge (Homo-SPE)</text>
<circle cx="362.7" cy="167.3" r="1.3" fill="#fff" stroke="#3c3a8e" stroke-width="1"/>
<rect x="379.3" y="165.6" width="3.4" height="3.4" fill="#3c3a8e"/>
<text x="387.70" y="170.70" font-size="10.6" fill="#111" text-anchor="start" font-family="Liberation Sans, sans-serif" font-weight="bold" textLength="164.3" lengthAdjust="spacingAndGlyphs">Charge/discharge (Inhomo-SPE)</text>
</g>
<g id="panelB">
<path d="M48.6 238.8 L50.0 238.9 L51.4 239.2 L52.8 239.0 L54.2 239.0 L55.6 238.8 L57.0 239.0 L58.4 239.1 L59.8 239.3 L61.2 238.7 L62.6 239.5 L64.0 239.8 L65.4 239.4 L66.8 239.4 L68.2 239.3 L69.6 239.2 L71.0 238.8 L72.4 239.3 L73.8 239.0 L75.2 239.0 L76.6 239.1 L78.0 239.0 L79.4 238.9 L80.8 239.2 L82.2 239.3 L83.6 239.4 L85.0 239.3 L86.4 239.3 L87.8 239.2 L89.2 239.4 L90.6 239.1 L92.0 239.6 L93.4 239.4 L94.8 239.1 L96.2 238.9 L97.6 239.3 L99.0 239.2 L100.4 239.0 L101.8 238.7 L103.2 239.5 L104.6 239.5 L105.2 239.3 L105.2 244.2 L104.6 244.7 L103.2 244.1 L101.8 244.2 L100.4 243.8 L99.0 244.3 L97.6 244.5 L96.2 244.2 L94.8 244.4 L93.4 244.8 L92.0 244.4 L90.6 244.4 L89.2 244.4 L87.8 244.3 L86.4 244.2 L85.0 244.4 L83.6 244.8 L82.2 244.8 L80.8 244.1 L79.4 244.3 L78.0 244.4 L76.6 244.7 L75.2 244.5 L73.8 244.3 L72.4 244.2 L71.0 244.3 L69.6 244.4 L68.2 244.6 L66.8 245.0 L65.4 244.9 L64.0 244.5 L62.6 244.5 L61.2 244.3 L59.8 244.5 L58.4 244.1 L57.0 244.0 L55.6 244.3 L54.2 244.2 L52.8 244.2 L51.4 244.3 L50.0 244.5 L48.6 244.3Z" fill="#2a2562" stroke="#2a2562" stroke-width="0.8" stroke-linejoin="round"/>
<rect x="94.7" y="241" width="3.4" height="5" fill="#2a2562"/>
<path d="M105.2 239.2 L107.2 239.4 L109.2 239.1 L111.2 239.6 L113.2 239.7 L115.2 239.7 L117.2 239.8 L119.2 239.9 L121.2 239.7 L123.2 239.6 L125.2 239.4 L127.2 239.5 L129.2 239.8 L131.2 239.5 L133.2 239.7 L135.2 239.7 L137.2 239.6 L139.2 239.3 L141.2 239.2 L143.2 239.2 L145.2 239.2 L147.2 239.4 L149.2 239.2 L151.2 239.6 L153.2 239.8 L155.2 239.3 L157.2 239.6 L159.2 239.2 L161.2 239.5 L163.2 239.7 L165.2 239.7 L167.2 239.6 L169.2 239.4 L171.2 239.6 L173.2 239.6 L175.2 239.6 L177.2 239.4 L179.2 239.4 L181.2 239.5 L183.2 239.5 L185.2 239.5 L187.2 239.3 L189.2 239.7 L191.2 239.6 L193.2 239.7 L195.2 239.5 L197.2 239.4 L199.2 239.1 L201.2 239.6 L203.2 239.7 L205.2 239.6 L207.2 239.3 L209.2 239.5 L211.2 239.7 L213.2 239.8 L215.2 239.5 L217.2 239.7 L219.2 239.3 L221.2 239.5 L223.2 239.8 L225.2 239.5 L227.2 239.3 L229.2 239.4 L231.2 239.4 L233.2 239.7 L235.2 239.6 L237.2 239.6 L239.2 239.7 L241.2 239.6 L243.2 239.6 L245.2 239.4 L247.2 239.6 L249.2 239.4 L251.2 239.4 L253.2 239.5 L255.2 239.5 L257.2 239.2 L259.2 239.3 L261.2 239.5 L263.2 239.0 L265.2 239.1 L267.2 239.6 L269.2 239.6 L271.2 239.1 L273.1 239.3 L273.1 244.0 L271.2 243.8 L269.2 243.9 L267.2 243.8 L265.2 243.9 L263.2 243.8 L261.2 243.6 L259.2 243.7 L257.2 243.7 L255.2 243.7 L253.2 243.8 L251.2 244.1 L249.2 243.9 L247.2 244.2 L245.2 243.8 L243.2 244.1 L241.2 244.2 L239.2 243.9 L237.2 244.0 L235.2 243.8 L233.2 243.8 L231.2 244.1 L229.2 243.9 L227.2 243.7 L225.2 244.2 L223.2 244.1 L221.2 244.1 L219.2 244.0 L217.2 244.1 L215.2 244.2 L213.2 244.2 L211.2 244.2 L209.2 243.6 L207.2 244.0 L205.2 244.1 L203.2 243.8 L201.2 243.9 L199.2 243.8 L197.2 243.8 L195.2 243.8 L193.2 243.8 L191.2 244.3 L189.2 243.8 L187.2 243.8 L185.2 244.1 L183.2 243.9 L181.2 243.7 L179.2 244.2 L177.2 244.0 L175.2 243.9 L173.2 243.8 L171.2 244.0 L169.2 243.7 L167.2 244.1 L165.2 244.0 L163.2 244.1 L161.2 243.8 L159.2 243.7 L157.2 244.0 L155.2 244.0 L153.2 244.1 L151.2 244.0 L149.2 243.7 L147.2 243.9 L145.2 244.0 L143.2 243.6 L141.2 243.6 L139.2 243.7 L137.2 243.8 L135.2 244.0 L133.2 243.8 L131.2 243.9 L129.2 244.1 L127.2 243.7 L125.2 243.9 L123.2 244.1 L121.2 244.2 L119.2 244.5 L117.2 244.3 L115.2 244.3 L113.2 244.1 L111.2 244.1 L109.2 243.8 L107.2 243.8 L105.2 243.9Z" fill="#3d3590" stroke="#3d3590" stroke-width="0.8" stroke-linejoin="round"/>
<path d="M48.6 271.3 L50.0 270.6 L51.4 271.0 L52.8 271.0 L54.2 271.3 L55.6 271.4 L57.0 271.2 L58.4 270.8 L59.8 270.7 L61.2 271.0 L62.6 271.5 L64.0 271.2 L65.4 270.7 L66.8 270.6 L68.2 270.6 L69.6 271.3 L71.0 271.1 L72.4 270.9 L73.8 271.1 L75.2 271.0 L76.6 271.0 L78.0 271.1 L79.4 270.8 L80.8 270.9 L82.2 271.2 L83.6 271.8 L85.0 271.5 L86.4 271.6 L87.8 271.3 L89.2 270.9 L90.6 271.0 L92.0 270.7 L93.4 270.8 L94.8 270.7 L96.2 271.1 L97.6 271.5 L99.0 271.7 L100.4 271.9 L101.8 272.3 L103.2 272.8 L104.6 273.1 L105.2 273.6 L105.2 279.1 L104.6 278.7 L103.2 278.0 L101.8 277.5 L100.4 277.1 L99.0 277.1 L97.6 276.7 L96.2 276.5 L94.8 276.2 L93.4 276.2 L92.0 276.1 L90.6 276.2 L89.2 276.2 L87.8 276.8 L86.4 277.1 L85.0 276.8 L83.6 277.0 L82.2 277.0 L80.8 276.8 L79.4 276.0 L78.0 276.2 L76.6 276.2 L75.2 276.8 L73.8 276.4 L72.4 276.5 L71.0 276.7 L69.6 276.6 L68.2 275.8 L66.8 276.0 L65.4 276.0 L64.0 276.5 L62.6 276.9 L61.2 276.8 L59.8 276.2 L58.4 276.3 L57.0 276.5 L55.6 276.8 L54.2 277.0 L52.8 276.5 L51.4 276.3 L50.0 276.4 L48.6 276.3Z" fill="#e1207b" stroke="#e1207b" stroke-width="0.8" stroke-linejoin="round"/>
<path d="M48.6 297.3 L50.2 296.5 L51.8 295.5 L53.4 295.6 L55.0 295.1 L56.6 294.5 L58.2 293.9 L59.8 293.9 L61.4 294.0 L63.0 293.4 L64.6 293.7 L66.2 293.3 L67.8 293.0 L69.4 292.8 L71.0 293.0 L72.6 292.7 L74.2 292.8 L75.8 292.2 L77.4 292.4 L79.0 292.3 L80.6 292.0 L82.2 292.5 L83.8 291.9 L85.4 292.2 L87.0 292.0 L88.6 292.0 L90.2 291.5 L91.8 291.4 L93.4 291.5 L95.0 291.3 L96.6 291.3 L98.2 290.9 L99.8 290.5 L101.4 290.2 L103.0 289.9 L104.6 289.4 L106.2 290.3 L107.8 291.0 L109.4 291.4 L111.0 291.5 L112.6 291.3 L114.2 291.2 L115.8 291.3 L117.4 291.4 L119.0 291.4 L120.6 291.4 L122.2 291.3 L123.8 290.9 L125.4 291.1 L127.0 291.3 L128.6 291.0 L130.2 291.5 L131.8 291.7 L133.4 291.3 L135.0 291.6 L136.6 291.3 L138.2 291.4 L139.8 291.3 L141.4 291.2 L143.0 291.1 L144.6 291.1 L146.2 291.5 L147.8 291.7 L149.4 291.4 L151.0 291.3 L152.6 291.3 L154.2 291.3 L155.8 291.2 L157.4 291.4 L159.0 291.6 L160.6 291.0 L162.2 291.8 L163.8 291.7 L165.4 291.6 L167.0 291.1 L168.6 291.3 L170.2 291.5 L171.8 291.8 L173.4 291.6 L175.0 291.6 L176.6 291.6 L178.2 291.6 L179.8 291.4 L181.4 291.9 L183.0 291.7 L184.6 291.3 L186.2 291.0 L187.8 291.3 L189.4 291.7 L191.0 291.8 L192.6 291.5 L194.2 291.7 L195.8 292.0 L197.4 291.4 L199.0 291.9 L200.6 291.4 L202.2 291.7 L203.8 291.5 L205.4 291.2 L207.0 291.1 L208.6 291.6 L210.2 291.8 L211.8 291.9 L213.4 291.5 L215.0 291.7 L216.6 291.5 L218.2 291.9 L219.8 292.0 L221.4 292.1 L223.0 291.4 L224.6 292.0 L226.2 291.7 L227.8 291.4 L229.4 291.4 L231.0 291.5 L232.6 291.8 L234.2 291.5 L235.8 291.1 L237.4 291.9 L239.0 291.6 L240.6 291.9 L242.2 291.9 L243.8 291.6 L245.4 291.5 L247.0 292.0 L248.6 292.0 L250.2 291.9 L251.8 292.0 L253.4 291.9 L255.0 291.9 L256.6 292.2 L258.2 291.9 L259.8 292.1 L261.4 292.5 L263.0 292.5 L264.6 292.4 L266.2 291.9 L267.8 292.5 L269.4 292.1 L271.0 291.9 L272.6 292.1 L273.1 292.1 L273.1 296.1 L272.6 296.2 L271.0 295.8 L269.4 296.1 L267.8 296.3 L266.2 296.1 L264.6 296.1 L263.0 296.4 L261.4 296.3 L259.8 295.8 L258.2 296.0 L256.6 296.0 L255.0 296.2 L253.4 295.9 L251.8 295.9 L250.2 295.8 L248.6 295.5 L247.0 295.7 L245.4 295.8 L243.8 295.7 L242.2 295.7 L240.6 295.8 L239.0 295.4 L237.4 295.6 L235.8 295.2 L234.2 295.3 L232.6 295.5 L231.0 295.5 L229.4 295.7 L227.8 295.5 L226.2 295.5 L224.6 295.8 L223.0 295.3 L221.4 295.7 L219.8 296.0 L218.2 295.9 L216.6 295.5 L215.0 295.6 L213.4 295.5 L211.8 295.6 L210.2 295.7 L208.6 295.5 L207.0 295.1 L205.4 295.4 L203.8 295.3 L202.2 295.5 L200.6 295.7 L199.0 295.7 L197.4 295.4 L195.8 295.9 L194.2 295.6 L192.6 295.5 L191.0 295.8 L189.4 295.3 L187.8 295.2 L186.2 295.1 L184.6 295.2 L183.0 295.2 L181.4 295.8 L179.8 295.4 L178.2 295.3 L176.6 295.7 L175.0 295.7 L173.4 295.6 L171.8 295.7 L170.2 295.4 L168.6 295.4 L167.0 295.2 L165.4 295.5 L163.8 295.4 L162.2 295.6 L160.6 295.2 L159.0 295.4 L157.4 295.3 L155.8 294.9 L154.2 295.3 L152.6 295.4 L151.0 295.3 L149.4 295.5 L147.8 295.4 L146.2 295.4 L144.6 295.4 L143.0 295.3 L141.4 294.9 L139.8 295.2 L138.2 295.0 L136.6 295.4 L135.0 295.7 L133.4 295.4 L131.8 295.3 L130.2 295.6 L128.6 295.1 L127.0 294.9 L125.4 295.0 L123.8 295.0 L122.2 295.0 L120.6 295.2 L119.0 295.5 L117.4 295.1 L115.8 295.2 L114.2 295.4 L112.6 295.6 L111.0 295.4 L109.4 295.5 L107.8 295.3 L106.2 294.2 L104.6 293.4 L103.0 293.7 L101.4 294.1 L99.8 294.7 L98.2 294.8 L96.6 295.2 L95.0 295.2 L93.4 295.3 L91.8 295.2 L90.2 295.7 L88.6 296.0 L87.0 296.0 L85.4 295.8 L83.8 296.1 L82.2 296.2 L80.6 296.2 L79.0 296.3 L77.4 296.3 L75.8 296.1 L74.2 296.4 L72.6 296.8 L71.0 296.9 L69.4 296.7 L67.8 296.8 L66.2 297.5 L64.6 297.4 L63.0 297.6 L61.4 297.9 L59.8 298.1 L58.2 298.1 L56.6 298.4 L55.0 298.9 L53.4 299.2 L51.8 299.4 L50.2 300.5 L48.6 301.3Z" fill="#e6211e" stroke="#e6211e" stroke-width="0.8" stroke-linejoin="round"/>
<line x1="48.20" y1="226.90" x2="273.60" y2="226.90" stroke="#111" stroke-width="1.3" />
<line x1="48.20" y1="226.20" x2="48.20" y2="392.60" stroke="#111" stroke-width="1.7" />
<line x1="47.50" y1="391.90" x2="273.60" y2="391.90" stroke="#111" stroke-width="1.7" />
<line x1="273.60" y1="226.20" x2="273.60" y2="392.60" stroke="#3b2a8a" stroke-width="1.8" />
<line x1="44.80" y1="391.90" x2="48.20" y2="391.90" stroke="#111" stroke-width="1.3" />
<text x="43.50" y="394.00" font-size="10.6" fill="#111" text-anchor="end" font-family="Liberation Sans, sans-serif" font-weight="bold" >0</text>
<line x1="46.20" y1="375.40" x2="48.20" y2="375.40" stroke="#111" stroke-width="1.2" />
<line x1="44.80" y1="358.90" x2="48.20" y2="358.90" stroke="#111" stroke-width="1.3" />
<text x="43.50" y="362.20" font-size="10.6" fill="#111" text-anchor="end" font-family="Liberation Sans, sans-serif" font-weight="bold" >40</text>
<line x1="46.20" y1="342.40" x2="48.20" y2="342.40" stroke="#111" stroke-width="1.2" />
<line x1="44.80" y1="325.90" x2="48.20" y2="325.90" stroke="#111" stroke-width="1.3" />
<text x="43.50" y="329.20" font-size="10.6" fill="#111" text-anchor="end" font-family="Liberation Sans, sans-serif" font-weight="bold" >80</text>
<line x1="46.20" y1="309.40" x2="48.20" y2="309.40" stroke="#111" stroke-width="1.2" />
<line x1="44.80" y1="292.90" x2="48.20" y2="292.90" stroke="#111" stroke-width="1.3" />
<text x="43.50" y="296.20" font-size="10.6" fill="#111" text-anchor="end" font-family="Liberation Sans, sans-serif" font-weight="bold" >120</text>
<line x1="46.20" y1="276.40" x2="48.20" y2="276.40" stroke="#111" stroke-width="1.2" />
<line x1="44.80" y1="259.90" x2="48.20" y2="259.90" stroke="#111" stroke-width="1.3" />
<text x="43.50" y="263.20" font-size="10.6" fill="#111" text-anchor="end" font-family="Liberation Sans, sans-serif" font-weight="bold" >160</text>
<line x1="46.20" y1="243.40" x2="48.20" y2="243.40" stroke="#111" stroke-width="1.2" />
<line x1="44.80" y1="226.90" x2="48.20" y2="226.90" stroke="#111" stroke-width="1.3" />
<text x="43.50" y="230.20" font-size="10.6" fill="#111" text-anchor="end" font-family="Liberation Sans, sans-serif" font-weight="bold" >200</text>
<line x1="48.20" y1="391.90" x2="48.20" y2="395.20" stroke="#111" stroke-width="1.3" />
<text x="48.40" y="404.30" font-size="10.7" fill="#111" text-anchor="middle" font-family="Liberation Sans, sans-serif" font-weight="bold" >0</text>
<line x1="60.72" y1="391.90" x2="60.72" y2="393.90" stroke="#111" stroke-width="1.2" />
<line x1="73.24" y1="391.90" x2="73.24" y2="395.20" stroke="#111" stroke-width="1.3" />
<text x="73.44" y="404.30" font-size="10.7" fill="#111" text-anchor="middle" font-family="Liberation Sans, sans-serif" font-weight="bold" >20</text>
<line x1="85.77" y1="391.90" x2="85.77" y2="393.90" stroke="#111" stroke-width="1.2" />
<line x1="98.29" y1="391.90" x2="98.29" y2="395.20" stroke="#111" stroke-width="1.3" />
<text x="98.49" y="404.30" font-size="10.7" fill="#111" text-anchor="middle" font-family="Liberation Sans, sans-serif" font-weight="bold" >40</text>
<line x1="110.81" y1="391.90" x2="110.81" y2="393.90" stroke="#111" stroke-width="1.2" />
<line x1="123.33" y1="391.90" x2="123.33" y2="395.20" stroke="#111" stroke-width="1.3" />
<text x="123.53" y="404.30" font-size="10.7" fill="#111" text-anchor="middle" font-family="Liberation Sans, sans-serif" font-weight="bold" >60</text>
<line x1="135.86" y1="391.90" x2="135.86" y2="393.90" stroke="#111" stroke-width="1.2" />
<line x1="148.38" y1="391.90" x2="148.38" y2="395.20" stroke="#111" stroke-width="1.3" />
<text x="148.58" y="404.30" font-size="10.7" fill="#111" text-anchor="middle" font-family="Liberation Sans, sans-serif" font-weight="bold" >80</text>
<line x1="160.90" y1="391.90" x2="160.90" y2="393.90" stroke="#111" stroke-width="1.2" />
<line x1="173.42" y1="391.90" x2="173.42" y2="395.20" stroke="#111" stroke-width="1.3" />
<text x="173.62" y="404.30" font-size="10.7" fill="#111" text-anchor="middle" font-family="Liberation Sans, sans-serif" font-weight="bold" >100</text>
<line x1="185.94" y1="391.90" x2="185.94" y2="393.90" stroke="#111" stroke-width="1.2" />
<line x1="198.47" y1="391.90" x2="198.47" y2="395.20" stroke="#111" stroke-width="1.3" />
<text x="198.67" y="404.30" font-size="10.7" fill="#111" text-anchor="middle" font-family="Liberation Sans, sans-serif" font-weight="bold" >120</text>
<line x1="210.99" y1="391.90" x2="210.99" y2="393.90" stroke="#111" stroke-width="1.2" />
<line x1="223.51" y1="391.90" x2="223.51" y2="395.20" stroke="#111" stroke-width="1.3" />
<text x="223.71" y="404.30" font-size="10.7" fill="#111" text-anchor="middle" font-family="Liberation Sans, sans-serif" font-weight="bold" >140</text>
<line x1="236.03" y1="391.90" x2="236.03" y2="393.90" stroke="#111" stroke-width="1.2" />
<line x1="248.56" y1="391.90" x2="248.56" y2="395.20" stroke="#111" stroke-width="1.3" />
<text x="248.76" y="404.30" font-size="10.7" fill="#111" text-anchor="middle" font-family="Liberation Sans, sans-serif" font-weight="bold" >160</text>
<line x1="261.08" y1="391.90" x2="261.08" y2="393.90" stroke="#111" stroke-width="1.2" />
<line x1="273.60" y1="391.90" x2="273.60" y2="395.20" stroke="#111" stroke-width="1.3" />
<text x="273.80" y="404.30" font-size="10.7" fill="#111" text-anchor="middle" font-family="Liberation Sans, sans-serif" font-weight="bold" >180</text>
<line x1="273.60" y1="391.90" x2="277.20" y2="391.90" stroke="#3b2a8a" stroke-width="1.3" />
<text x="277.20" y="394.50" font-size="10.8" fill="#3b2a8a" text-anchor="start" font-family="Liberation Sans, sans-serif" font-weight="bold" >0</text>
<line x1="273.60" y1="376.85" x2="275.60" y2="376.85" stroke="#3b2a8a" stroke-width="1.2" />
<line x1="273.60" y1="361.80" x2="277.20" y2="361.80" stroke="#3b2a8a" stroke-width="1.3" />
<text x="277.20" y="364.40" font-size="10.8" fill="#3b2a8a" text-anchor="start" font-family="Liberation Sans, sans-serif" font-weight="bold" >20</text>
<line x1="273.60" y1="346.75" x2="275.60" y2="346.75" stroke="#3b2a8a" stroke-width="1.2" />
<line x1="273.60" y1="331.70" x2="277.20" y2="331.70" stroke="#3b2a8a" stroke-width="1.3" />
<text x="277.20" y="334.30" font-size="10.8" fill="#3b2a8a" text-anchor="start" font-family="Liberation Sans, sans-serif" font-weight="bold" >40</text>
<line x1="273.60" y1="316.65" x2="275.60" y2="316.65" stroke="#3b2a8a" stroke-width="1.2" />
<line x1="273.60" y1="301.60" x2="277.20" y2="301.60" stroke="#3b2a8a" stroke-width="1.3" />
<text x="277.20" y="304.20" font-size="10.8" fill="#3b2a8a" text-anchor="start" font-family="Liberation Sans, sans-serif" font-weight="bold" >60</text>
<line x1="273.60" y1="286.55" x2="275.60" y2="286.55" stroke="#3b2a8a" stroke-width="1.2" />
<line x1="273.60" y1="271.50" x2="277.20" y2="271.50" stroke="#3b2a8a" stroke-width="1.3" />
<text x="277.20" y="274.10" font-size="10.8" fill="#3b2a8a" text-anchor="start" font-family="Liberation Sans, sans-serif" font-weight="bold" >80</text>
<line x1="273.60" y1="256.45" x2="275.60" y2="256.45" stroke="#3b2a8a" stroke-width="1.2" />
<line x1="273.60" y1="241.40" x2="277.20" y2="241.40" stroke="#3b2a8a" stroke-width="1.3" />
<text x="277.20" y="244.00" font-size="10.8" fill="#3b2a8a" text-anchor="start" font-family="Liberation Sans, sans-serif" font-weight="bold" >100</text>
<text x="0.90" y="229.30" font-size="19.4" fill="#000" text-anchor="start" font-family="Liberation Sans, sans-serif" font-weight="bold" >b</text>
<text transform="translate(24.00 310.00) rotate(-90)" font-size="12.5" fill="#111" text-anchor="middle" font-family="Liberation Sans, sans-serif" font-weight="bold" textLength="161.4" lengthAdjust="spacingAndGlyphs">Specific capacity (mAh g<tspan dy="-0.45em" font-size="62%">-1</tspan><tspan dy="0.28em">)</tspan></text>
<text transform="translate(300.70 319.50) rotate(-90)" font-size="12.5" fill="#3b2a8a" text-anchor="middle" font-family="Liberation Sans, sans-serif" font-weight="bold" textLength="148" lengthAdjust="spacingAndGlyphs">Coulombic efficiency (%)</text>
<text x="121.60" y="417.60" font-size="12.4" fill="#111" text-anchor="start" font-family="Liberation Sans, sans-serif" font-weight="bold" textLength="81.7" lengthAdjust="spacingAndGlyphs">Cycle number</text>
<text x="55.80" y="266.60" font-size="10.3" fill="#111" text-anchor="start" font-family="Liberation Sans, sans-serif" font-weight="bold" >0.03C</text>
<text x="117.50" y="288.80" font-size="10.3" fill="#111" text-anchor="start" font-family="Liberation Sans, sans-serif" font-weight="bold" >0.1C</text>
<path d="M248.3 243.5 V255.5 H268" fill="none" stroke="#3d3590" stroke-width="1"/>
<path d="M272.6 255.5 L267 253.6 L267 257.4Z" fill="#3d3590"/>
<text x="56.60" y="357.60" font-size="14.4" fill="#111" text-anchor="start" font-family="Liberation Sans, sans-serif" font-weight="bold" >0</text>
<text x="65.80" y="352.70" font-size="11.2" fill="#111" text-anchor="start" font-family="Liberation Sans, sans-serif" font-weight="bold" >o</text>
<text x="72.20" y="357.60" font-size="14.0" fill="#111" text-anchor="start" font-family="Liberation Sans, sans-serif" font-weight="bold" >C</text>
<rect x="57.95" y="367.15" width="3.3" height="3.3" fill="#fff" stroke="#e6211e" stroke-width="1.1"/>
<rect x="75.9" y="366.5" width="4.6" height="4.6" fill="#e6211e"/>
<text x="81.90" y="372.60" font-size="10.7" fill="#111" text-anchor="start" font-family="Liberation Sans, sans-serif" font-weight="bold" >Charge/discharge (0.1C)</text>
<circle cx="59.6" cy="381.2" r="1.9" fill="#fff" stroke="#e1207b" stroke-width="1.1"/>
<circle cx="77.9" cy="381.2" r="2.5" fill="#e1207b"/>
<text x="81.90" y="384.90" font-size="10.7" fill="#111" text-anchor="start" font-family="Liberation Sans, sans-serif" font-weight="bold" >Charge/discharge (0.03C)</text>
</g>
<g id="panelC">
<defs><linearGradient id="gp" x1="0" x2="1" y1="0" y2="0"><stop offset="0" stop-color="#fff7f8"/><stop offset="0.2" stop-color="#fcdde5"/><stop offset="0.5" stop-color="#f5a2b8"/><stop offset="0.75" stop-color="#ee6d92"/><stop offset="1" stop-color="#e73a73"/></linearGradient></defs>
<rect x="339.0" y="227.5" width="58.2" height="165.4" fill="#e3f0da"/>
<rect x="397.2" y="227.5" width="166.7" height="165.4" fill="url(#gp)"/>
<rect x="347.55" y="358.90" width="9.5" height="34.00" fill="#ea2c7d"/>
<rect x="360.81" y="386.47" width="9.5" height="6.43" fill="#181818"/>
<rect x="374.07" y="356.14" width="9.5" height="36.76" fill="#181818"/>
<rect x="387.33" y="264.26" width="9.5" height="128.64" fill="#ea2c7d"/>
<rect x="400.59" y="356.14" width="9.5" height="36.76" fill="#181818"/>
<rect x="413.85" y="386.47" width="9.5" height="6.43" fill="#181818"/>
<rect x="427.11" y="356.14" width="9.5" height="36.76" fill="#181818"/>
<rect x="440.37" y="383.34" width="9.5" height="9.56" fill="#181818"/>
<rect x="453.63" y="337.40" width="9.5" height="55.50" fill="#181818"/>
<rect x="466.89" y="373.97" width="9.5" height="18.93" fill="#181818"/>
<rect x="480.15" y="337.40" width="9.5" height="55.50" fill="#181818"/>
<rect x="493.41" y="370.48" width="9.5" height="22.42" fill="#181818"/>
<rect x="506.67" y="328.21" width="9.5" height="64.69" fill="#181818"/>
<rect x="519.93" y="387.39" width="9.5" height="5.51" fill="#181818"/>
<rect x="533.19" y="301.01" width="9.5" height="91.89" fill="#181818"/>
<rect x="546.45" y="355.59" width="9.5" height="37.31" fill="#181818"/>
<rect x="363.6" y="297.2" width="4.2" height="4.2" fill="#40409a"/>
<rect x="376.7" y="274.8" width="4.2" height="4.2" fill="#40409a"/>
<rect x="403.4" y="285.4" width="4.2" height="4.2" fill="#40409a"/>
<rect x="416.9" y="240.9" width="4.2" height="4.2" fill="#40409a"/>
<rect x="429.9" y="239.6" width="4.2" height="4.2" fill="#40409a"/>
<rect x="442.7" y="236.9" width="4.2" height="4.2" fill="#40409a"/>
<rect x="455.9" y="245.4" width="4.2" height="4.2" fill="#40409a"/>
<rect x="469.4" y="248.1" width="4.2" height="4.2" fill="#40409a"/>
<rect x="482.7" y="253.4" width="4.2" height="4.2" fill="#40409a"/>
<rect x="495.9" y="257.7" width="4.2" height="4.2" fill="#40409a"/>
<rect x="509.1" y="262.5" width="4.2" height="4.2" fill="#40409a"/>
<rect x="522.4" y="277.4" width="4.2" height="4.2" fill="#40409a"/>
<rect x="549.1" y="288.4" width="4.2" height="4.2" fill="#40409a"/>
<rect x="535.9" y="290.8" width="4.2" height="4.2" fill="#40409a"/>
<text x="351.90" y="356.70" font-size="9.3" fill="#161616" text-anchor="middle" font-family="Liberation Sans, sans-serif" font-weight="bold" textLength="12.8" lengthAdjust="spacingAndGlyphs">0<tspan dy="-5.0" font-size="6.3" font-weight="normal" fill="#222">o</tspan><tspan dy="5.0">C</tspan></text>
<text x="365.56" y="384.27" font-size="9.3" fill="#161616" text-anchor="middle" font-family="Liberation Sans, sans-serif" font-weight="bold" textLength="18.2" lengthAdjust="spacingAndGlyphs">25<tspan dy="-5.0" font-size="6.3" font-weight="normal" fill="#222">o</tspan><tspan dy="5.0">C</tspan></text>
<text x="377.42" y="353.94" font-size="9.3" fill="#161616" text-anchor="middle" font-family="Liberation Sans, sans-serif" font-weight="bold" textLength="18.2" lengthAdjust="spacingAndGlyphs">18<tspan dy="-5.0" font-size="6.3" font-weight="normal" fill="#222">o</tspan><tspan dy="5.0">C</tspan></text>
<text x="406.84" y="353.94" font-size="9.3" fill="#161616" text-anchor="middle" font-family="Liberation Sans, sans-serif" font-weight="bold" textLength="18.2" lengthAdjust="spacingAndGlyphs">35<tspan dy="-5.0" font-size="6.3" font-weight="normal" fill="#222">o</tspan><tspan dy="5.0">C</tspan></text>
<text x="418.60" y="384.27" font-size="9.3" fill="#161616" text-anchor="middle" font-family="Liberation Sans, sans-serif" font-weight="bold" textLength="18.2" lengthAdjust="spacingAndGlyphs">40<tspan dy="-5.0" font-size="6.3" font-weight="normal" fill="#222">o</tspan><tspan dy="5.0">C</tspan></text>
<text x="431.86" y="353.94" font-size="9.3" fill="#161616" text-anchor="middle" font-family="Liberation Sans, sans-serif" font-weight="bold" textLength="18.2" lengthAdjust="spacingAndGlyphs">60<tspan dy="-5.0" font-size="6.3" font-weight="normal" fill="#222">o</tspan><tspan dy="5.0">C</tspan></text>
<text x="445.12" y="381.14" font-size="9.3" fill="#161616" text-anchor="middle" font-family="Liberation Sans, sans-serif" font-weight="bold" textLength="18.2" lengthAdjust="spacingAndGlyphs">50<tspan dy="-5.0" font-size="6.3" font-weight="normal" fill="#222">o</tspan><tspan dy="5.0">C</tspan></text>
<text x="458.38" y="335.20" font-size="9.3" fill="#161616" text-anchor="middle" font-family="Liberation Sans, sans-serif" font-weight="bold" textLength="18.2" lengthAdjust="spacingAndGlyphs">60<tspan dy="-5.0" font-size="6.3" font-weight="normal" fill="#222">o</tspan><tspan dy="5.0">C</tspan></text>
<text x="471.64" y="371.77" font-size="9.3" fill="#161616" text-anchor="middle" font-family="Liberation Sans, sans-serif" font-weight="bold" textLength="18.2" lengthAdjust="spacingAndGlyphs">60<tspan dy="-5.0" font-size="6.3" font-weight="normal" fill="#222">o</tspan><tspan dy="5.0">C</tspan></text>
<text x="484.90" y="335.20" font-size="9.3" fill="#161616" text-anchor="middle" font-family="Liberation Sans, sans-serif" font-weight="bold" textLength="18.2" lengthAdjust="spacingAndGlyphs">60<tspan dy="-5.0" font-size="6.3" font-weight="normal" fill="#222">o</tspan><tspan dy="5.0">C</tspan></text>
<text x="498.16" y="368.28" font-size="9.3" fill="#161616" text-anchor="middle" font-family="Liberation Sans, sans-serif" font-weight="bold" textLength="18.2" lengthAdjust="spacingAndGlyphs">60<tspan dy="-5.0" font-size="6.3" font-weight="normal" fill="#222">o</tspan><tspan dy="5.0">C</tspan></text>
<text x="511.42" y="326.01" font-size="9.3" fill="#161616" text-anchor="middle" font-family="Liberation Sans, sans-serif" font-weight="bold" textLength="18.2" lengthAdjust="spacingAndGlyphs">45<tspan dy="-5.0" font-size="6.3" font-weight="normal" fill="#222">o</tspan><tspan dy="5.0">C</tspan></text>
<text x="524.68" y="385.19" font-size="9.3" fill="#161616" text-anchor="middle" font-family="Liberation Sans, sans-serif" font-weight="bold" textLength="18.2" lengthAdjust="spacingAndGlyphs">60<tspan dy="-5.0" font-size="6.3" font-weight="normal" fill="#222">o</tspan><tspan dy="5.0">C</tspan></text>
<text x="537.94" y="298.81" font-size="9.3" fill="#161616" text-anchor="middle" font-family="Liberation Sans, sans-serif" font-weight="bold" textLength="18.2" lengthAdjust="spacingAndGlyphs">60<tspan dy="-5.0" font-size="6.3" font-weight="normal" fill="#222">o</tspan><tspan dy="5.0">C</tspan></text>
<text x="551.20" y="353.39" font-size="9.3" fill="#161616" text-anchor="middle" font-family="Liberation Sans, sans-serif" font-weight="bold" textLength="18.2" lengthAdjust="spacingAndGlyphs">80<tspan dy="-5.0" font-size="6.3" font-weight="normal" fill="#222">o</tspan><tspan dy="5.0">C</tspan></text>
<text x="353.50" y="296.10" font-size="8.7" fill="#111" text-anchor="start" font-family="Liberation Sans, sans-serif" font-weight="bold" textLength="23.2" lengthAdjust="spacingAndGlyphs">ref.36</text>
<text x="362.00" y="274.10" font-size="8.7" fill="#111" text-anchor="start" font-family="Liberation Sans, sans-serif" font-weight="bold" textLength="23.2" lengthAdjust="spacingAndGlyphs">ref.37</text>
<text x="399.30" y="284.80" font-size="8.7" fill="#111" text-anchor="start" font-family="Liberation Sans, sans-serif" font-weight="bold" textLength="23.2" lengthAdjust="spacingAndGlyphs">ref.38</text>
<text x="394.50" y="245.60" font-size="8.7" fill="#111" text-anchor="start" font-family="Liberation Sans, sans-serif" font-weight="bold" textLength="23.2" lengthAdjust="spacingAndGlyphs">ref.39</text>
<text x="422.70" y="251.40" font-size="8.7" fill="#111" text-anchor="start" font-family="Liberation Sans, sans-serif" font-weight="bold" textLength="23.2" lengthAdjust="spacingAndGlyphs">ref.31</text>
<text x="432.00" y="236.10" font-size="8.7" fill="#111" text-anchor="start" font-family="Liberation Sans, sans-serif" font-weight="bold" textLength="23.2" lengthAdjust="spacingAndGlyphs">ref.40</text>
<text x="447.50" y="244.80" font-size="8.7" fill="#111" text-anchor="start" font-family="Liberation Sans, sans-serif" font-weight="bold" textLength="23.2" lengthAdjust="spacingAndGlyphs">ref.41</text>
<text x="476.80" y="252.80" font-size="8.7" fill="#111" text-anchor="start" font-family="Liberation Sans, sans-serif" font-weight="bold" textLength="23.2" lengthAdjust="spacingAndGlyphs">ref.43</text>
<text x="458.00" y="260.80" font-size="8.7" fill="#111" text-anchor="start" font-family="Liberation Sans, sans-serif" font-weight="bold" textLength="23.2" lengthAdjust="spacingAndGlyphs">ref.42</text>
<text x="482.00" y="268.80" font-size="8.7" fill="#111" text-anchor="start" font-family="Liberation Sans, sans-serif" font-weight="bold" textLength="23.2" lengthAdjust="spacingAndGlyphs">ref.44</text>
<text x="514.70" y="266.90" font-size="8.7" fill="#111" text-anchor="start" font-family="Liberation Sans, sans-serif" font-weight="bold" textLength="23.2" lengthAdjust="spacingAndGlyphs">ref.45</text>
<text x="511.50" y="276.80" font-size="8.7" fill="#111" text-anchor="start" font-family="Liberation Sans, sans-serif" font-weight="bold" textLength="23.2" lengthAdjust="spacingAndGlyphs">ref.30</text>
<text x="538.00" y="286.90" font-size="8.7" fill="#111" text-anchor="start" font-family="Liberation Sans, sans-serif" font-weight="bold" textLength="23.2" lengthAdjust="spacingAndGlyphs">ref.46</text>
<text x="512.80" y="294.60" font-size="8.7" fill="#111" text-anchor="start" font-family="Liberation Sans, sans-serif" font-weight="bold" textLength="23.2" lengthAdjust="spacingAndGlyphs">ref.29</text>
<rect x="349.8" y="241.6" width="4.4" height="4.4" fill="#ea2c7d"/>
<path d="M356 244 H371" stroke="#3f3a9a" stroke-width="1.5" fill="none"/><path d="M376.2 244 L369.6 241.4 L369.6 246.6Z" fill="#3f3a9a"/>
<rect x="390.0" y="255.5" width="4.4" height="4.4" fill="#ea2c7d"/>
<path d="M396.8 257.7 H424" stroke="#3f3a9a" stroke-width="1.5" fill="none"/><path d="M428.8 257.7 L422.2 255.1 L422.2 260.3Z" fill="#3f3a9a"/>
<path d="M491.5 255 H556" stroke="#3f3a9a" stroke-width="1.5" fill="none"/><path d="M561 255 L554.4 252.4 L554.4 257.6Z" fill="#3f3a9a"/>
<text x="391.60" y="255.20" font-size="9.3" fill="#161616" text-anchor="middle" font-family="Liberation Sans, sans-serif" font-weight="bold" textLength="18.2" lengthAdjust="spacingAndGlyphs">25<tspan dy="-5.0" font-size="6.3" font-weight="normal" fill="#222">o</tspan><tspan dy="5.0">C</tspan></text>
<text x="342.00" y="236.30" font-size="9.0" fill="#3b2a8a" text-anchor="start" font-family="Liberation Sans, sans-serif" font-weight="bold" textLength="68.6" lengthAdjust="spacingAndGlyphs">low temperature</text>
<text x="488.20" y="236.30" font-size="8.9" fill="#3b2a8a" text-anchor="start" font-family="Liberation Sans, sans-serif" font-weight="bold" textLength="71.8" lengthAdjust="spacingAndGlyphs">high temperature</text>
<line x1="339.00" y1="227.50" x2="563.90" y2="227.50" stroke="#111" stroke-width="1.2" />
<line x1="339.00" y1="226.80" x2="339.00" y2="393.60" stroke="#111" stroke-width="1.7" />
<line x1="338.30" y1="392.90" x2="563.90" y2="392.90" stroke="#111" stroke-width="1.7" />
<line x1="563.90" y1="226.80" x2="563.90" y2="306.20" stroke="#3b2a8a" stroke-width="1.8" />
<line x1="563.90" y1="310.60" x2="563.90" y2="393.60" stroke="#3b2a8a" stroke-width="1.8" />
<line x1="560.90" y1="307.60" x2="566.90" y2="304.80" stroke="#3b2a8a" stroke-width="1.1" />
<line x1="560.90" y1="311.60" x2="566.90" y2="308.80" stroke="#3b2a8a" stroke-width="1.1" />
<line x1="335.60" y1="392.90" x2="339.00" y2="392.90" stroke="#111" stroke-width="1.3" />
<text x="335.60" y="396.60" font-size="10.7" fill="#111" text-anchor="end" font-family="Liberation Sans, sans-serif" font-weight="bold" >0</text>
<line x1="337.00" y1="383.71" x2="339.00" y2="383.71" stroke="#111" stroke-width="1.2" />
<line x1="335.60" y1="374.52" x2="339.00" y2="374.52" stroke="#111" stroke-width="1.3" />
<text x="335.60" y="378.22" font-size="10.7" fill="#111" text-anchor="end" font-family="Liberation Sans, sans-serif" font-weight="bold" >100</text>
<line x1="337.00" y1="365.33" x2="339.00" y2="365.33" stroke="#111" stroke-width="1.2" />
<line x1="335.60" y1="356.14" x2="339.00" y2="356.14" stroke="#111" stroke-width="1.3" />
<text x="335.60" y="359.84" font-size="10.7" fill="#111" text-anchor="end" font-family="Liberation Sans, sans-serif" font-weight="bold" >200</text>
<line x1="337.00" y1="346.96" x2="339.00" y2="346.96" stroke="#111" stroke-width="1.2" />
<line x1="335.60" y1="337.77" x2="339.00" y2="337.77" stroke="#111" stroke-width="1.3" />
<text x="335.60" y="341.47" font-size="10.7" fill="#111" text-anchor="end" font-family="Liberation Sans, sans-serif" font-weight="bold" >300</text>
<line x1="337.00" y1="328.58" x2="339.00" y2="328.58" stroke="#111" stroke-width="1.2" />
<line x1="335.60" y1="319.39" x2="339.00" y2="319.39" stroke="#111" stroke-width="1.3" />
<text x="335.60" y="323.09" font-size="10.7" fill="#111" text-anchor="end" font-family="Liberation Sans, sans-serif" font-weight="bold" >400</text>
<line x1="337.00" y1="310.20" x2="339.00" y2="310.20" stroke="#111" stroke-width="1.2" />
<line x1="335.60" y1="301.01" x2="339.00" y2="301.01" stroke="#111" stroke-width="1.3" />
<text x="335.60" y="304.71" font-size="10.7" fill="#111" text-anchor="end" font-family="Liberation Sans, sans-serif" font-weight="bold" >500</text>
<line x1="337.00" y1="291.82" x2="339.00" y2="291.82" stroke="#111" stroke-width="1.2" />
<line x1="335.60" y1="282.63" x2="339.00" y2="282.63" stroke="#111" stroke-width="1.3" />
<text x="335.60" y="286.33" font-size="10.7" fill="#111" text-anchor="end" font-family="Liberation Sans, sans-serif" font-weight="bold" >600</text>
<line x1="337.00" y1="273.44" x2="339.00" y2="273.44" stroke="#111" stroke-width="1.2" />
<line x1="335.60" y1="264.26" x2="339.00" y2="264.26" stroke="#111" stroke-width="1.3" />
<text x="335.60" y="267.96" font-size="10.7" fill="#111" text-anchor="end" font-family="Liberation Sans, sans-serif" font-weight="bold" >700</text>
<line x1="337.00" y1="255.07" x2="339.00" y2="255.07" stroke="#111" stroke-width="1.2" />
<line x1="335.60" y1="245.88" x2="339.00" y2="245.88" stroke="#111" stroke-width="1.3" />
<text x="335.60" y="249.58" font-size="10.7" fill="#111" text-anchor="end" font-family="Liberation Sans, sans-serif" font-weight="bold" >800</text>
<line x1="337.00" y1="236.69" x2="339.00" y2="236.69" stroke="#111" stroke-width="1.2" />
<line x1="335.60" y1="227.50" x2="339.00" y2="227.50" stroke="#111" stroke-width="1.3" />
<text x="335.60" y="231.20" font-size="10.7" fill="#111" text-anchor="end" font-family="Liberation Sans, sans-serif" font-weight="bold" >900</text>
<rect x="347.55" y="390.90" width="9.5" height="3" fill="#ea2c7d"/>
<rect x="387.33" y="390.90" width="9.5" height="3" fill="#ea2c7d"/>
<line x1="563.90" y1="293.00" x2="567.50" y2="293.00" stroke="#3b2a8a" stroke-width="1.3" />
<text x="567.70" y="296.40" font-size="10.8" fill="#3b2a8a" text-anchor="start" font-family="Liberation Sans, sans-serif" font-weight="bold" >80</text>
<line x1="563.90" y1="278.68" x2="565.90" y2="278.68" stroke="#3b2a8a" stroke-width="1.2" />
<line x1="563.90" y1="264.35" x2="567.50" y2="264.35" stroke="#3b2a8a" stroke-width="1.3" />
<text x="567.70" y="267.75" font-size="10.8" fill="#3b2a8a" text-anchor="start" font-family="Liberation Sans, sans-serif" font-weight="bold" >90</text>
<line x1="563.90" y1="250.03" x2="565.90" y2="250.03" stroke="#3b2a8a" stroke-width="1.2" />
<line x1="563.90" y1="235.70" x2="567.50" y2="235.70" stroke="#3b2a8a" stroke-width="1.3" />
<text x="567.70" y="239.10" font-size="10.8" fill="#3b2a8a" text-anchor="start" font-family="Liberation Sans, sans-serif" font-weight="bold" >100</text>
<line x1="563.90" y1="392.90" x2="567.50" y2="392.90" stroke="#3b2a8a" stroke-width="1.3" />
<text x="567.70" y="397.90" font-size="10.8" fill="#3b2a8a" text-anchor="start" font-family="Liberation Sans, sans-serif" font-weight="bold" >0</text>
<line x1="563.90" y1="378.57" x2="565.90" y2="378.57" stroke="#3b2a8a" stroke-width="1.2" />
<line x1="563.90" y1="364.25" x2="567.50" y2="364.25" stroke="#3b2a8a" stroke-width="1.3" />
<text x="567.70" y="367.65" font-size="10.8" fill="#3b2a8a" text-anchor="start" font-family="Liberation Sans, sans-serif" font-weight="bold" >10</text>
<line x1="563.90" y1="349.92" x2="565.90" y2="349.92" stroke="#3b2a8a" stroke-width="1.2" />
<line x1="563.90" y1="335.60" x2="567.50" y2="335.60" stroke="#3b2a8a" stroke-width="1.3" />
<text x="567.70" y="339.00" font-size="10.8" fill="#3b2a8a" text-anchor="start" font-family="Liberation Sans, sans-serif" font-weight="bold" >20</text>
<line x1="563.90" y1="321.27" x2="565.90" y2="321.27" stroke="#3b2a8a" stroke-width="1.2" />
<text x="298.90" y="230.20" font-size="19.4" fill="#000" text-anchor="start" font-family="Liberation Sans, sans-serif" font-weight="bold" >c</text>
<text transform="translate(314.60 305.40) rotate(-90)" font-size="12.6" fill="#111" text-anchor="middle" font-family="Liberation Sans, sans-serif" font-weight="bold" textLength="82.5" lengthAdjust="spacingAndGlyphs">Cycle number</text>
<text transform="translate(592.20 310.00) rotate(-90)" font-size="12.4" fill="#3b2a8a" text-anchor="middle" font-family="Liberation Sans, sans-serif" font-weight="bold" textLength="131.5" lengthAdjust="spacingAndGlyphs">Capacity retention (%)</text>
<text transform="translate(354.70 399.2) rotate(-34.6)" font-size="7.1" fill="#ea2c7d" text-anchor="end" font-family="Liberation Sans, sans-serif" font-weight="bold">Our work</text>
<text transform="translate(367.96 399.2) rotate(-34.6)" font-size="7.1" fill="#1c1c1c" text-anchor="end" font-family="Liberation Sans, sans-serif" font-weight="bold">PEO+3D LLTO</text>
<text transform="translate(381.22 399.2) rotate(-34.6)" font-size="7.1" fill="#1c1c1c" text-anchor="end" font-family="Liberation Sans, sans-serif" font-weight="bold">PEO+SiO<tspan font-size="70%" dy="1">2</tspan></text>
<text transform="translate(394.48 399.2) rotate(-34.6)" font-size="7.1" fill="#ea2c7d" text-anchor="end" font-family="Liberation Sans, sans-serif" font-weight="bold">Our work</text>
<text transform="translate(407.74 399.2) rotate(-34.6)" font-size="7.1" fill="#1c1c1c" text-anchor="end" font-family="Liberation Sans, sans-serif" font-weight="bold">PEO+VAVS</text>
<text transform="translate(421.00 399.2) rotate(-34.6)" font-size="7.1" fill="#1c1c1c" text-anchor="end" font-family="Liberation Sans, sans-serif" font-weight="bold">PEO+GNS</text>
<text transform="translate(434.26 399.2) rotate(-34.6)" font-size="7.1" fill="#1c1c1c" text-anchor="end" font-family="Liberation Sans, sans-serif" font-weight="bold">PEO+LLZTO+SN</text>
<text transform="translate(447.52 399.2) rotate(-34.6)" font-size="7.1" fill="#1c1c1c" text-anchor="end" font-family="Liberation Sans, sans-serif" font-weight="bold">PEO+LLZTO@PDA</text>
<text transform="translate(460.78 399.2) rotate(-34.6)" font-size="7.1" fill="#1c1c1c" text-anchor="end" font-family="Liberation Sans, sans-serif" font-weight="bold">PEO+PI</text>
<text transform="translate(474.04 399.2) rotate(-34.6)" font-size="7.1" fill="#1c1c1c" text-anchor="end" font-family="Liberation Sans, sans-serif" font-weight="bold">PEO+MOF</text>
<text transform="translate(487.30 399.2) rotate(-34.6)" font-size="7.1" fill="#1c1c1c" text-anchor="end" font-family="Liberation Sans, sans-serif" font-weight="bold">PEO+LAGP</text>
<text transform="translate(500.56 399.2) rotate(-34.6)" font-size="7.1" fill="#1c1c1c" text-anchor="end" font-family="Liberation Sans, sans-serif" font-weight="bold">PEO+LLZO</text>
<text transform="translate(513.82 399.2) rotate(-34.6)" font-size="7.1" fill="#1c1c1c" text-anchor="end" font-family="Liberation Sans, sans-serif" font-weight="bold">PEO+LSTZ</text>
<text transform="translate(527.08 399.2) rotate(-34.6)" font-size="7.1" fill="#1c1c1c" text-anchor="end" font-family="Liberation Sans, sans-serif" font-weight="bold">PEO+LiAlO<tspan font-size="70%" dy="1">2</tspan><tspan dy="-1">+SN</tspan></text>
<text transform="translate(540.34 399.2) rotate(-34.6)" font-size="7.1" fill="#1c1c1c" text-anchor="end" font-family="Liberation Sans, sans-serif" font-weight="bold">PEO+LLZO+SN</text>
<text transform="translate(553.60 399.2) rotate(-34.6)" font-size="7.1" fill="#1c1c1c" text-anchor="end" font-family="Liberation Sans, sans-serif" font-weight="bold">PEO+C<tspan font-size="70%" dy="1">3</tspan><tspan dy="-1">N</tspan><tspan font-size="70%" dy="1">4</tspan></text>
</g>
</svg>
</body></html>
